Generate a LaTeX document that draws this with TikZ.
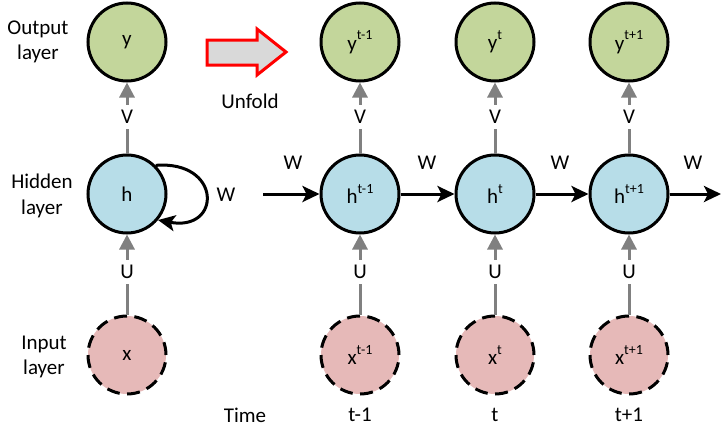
\documentclass[tikz,border=0pt]{standalone}
\usepackage{fontspec}
\setmainfont{Carlito}
\usetikzlibrary{arrows.meta}
\definecolor{outg}{HTML}{C3D69B}
\definecolor{hidb}{HTML}{B7DDE8}
\definecolor{inpr}{HTML}{E6B9B8}
\definecolor{arrg}{HTML}{808080}
\definecolor{unfg}{HTML}{D9D9D9}
\newcommand{\supx}[2]{#1\raisebox{0.5em}{\fontsize{14}{14}\selectfont #2}}
\tikzset{
  base/.style={circle, minimum size=78pt, inner sep=0pt, line width=3pt},
  outnode/.style={base, draw=black, fill=outg},
  hidnode/.style={base, draw=black, fill=hidb},
  inpnode/.style={base, draw=black, fill=inpr, dash pattern=on 13pt off 7.42pt},
  grayarr/.style={draw=arrg, line width=3pt, -{Triangle[length=15pt,width=15pt]}},
  blackarr/.style={draw=black, line width=3pt, -{Stealth[length=17pt,width=16pt,inset=4pt]}},
  lbl/.style={inner sep=0pt, align=center},
  wlbl/.style={fill=white, inner sep=5pt},
}
\begin{document}
\begin{tikzpicture}[x=1pt,y=-1pt,font=\fontsize{21}{25.5}\selectfont]
\useasboundingbox (0,0) rectangle (722,434);

% left, folded network
\node[outnode] (y0) at (127,42) {y};
\node[hidnode] (h0) at (127,194) {h};
\node[inpnode] (x0) at (127,355) {x};

% unfolded network
\node[outnode] (y1) at (360,42) {\supx{y}{t-1}};
\node[outnode] (y2) at (495,42) {\supx{y}{t}};
\node[outnode] (y3) at (629,42) {\supx{y}{t+1}};
\node[hidnode] (h1) at (360,194) {\supx{h}{t-1}};
\node[hidnode] (h2) at (495,194) {\supx{h}{t}};
\node[hidnode] (h3) at (629,194) {\supx{h}{t+1}};
\node[inpnode] (x1) at (360,355) {\supx{x}{t-1}};
\node[inpnode] (x2) at (495,355) {\supx{x}{t}};
\node[inpnode] (x3) at (629,355) {\supx{x}{t+1}};

% vertical gray arrows with labels
\foreach \i in {0,1,2,3}{
  \draw[grayarr] (h\i.north) -- (y\i.south);
  \draw[grayarr] (x\i.north) -- (h\i.south);
}
\foreach \i/\xx in {0/127,1/360,2/495,3/629}{
  \node[wlbl] (v\i) at (\xx,117) {V};
  \node[wlbl] (u\i) at (\xx,272) {U};
}

% recurrent self loop
\draw[blackarr] (h0.45) .. controls (222,160) and (222,232) .. (h0.-40);
\node[lbl] (w0) at (226,195) {W};

% horizontal W arrows
\coordinate (win) at (263,194);
\coordinate (wout) at (721,194);
\draw[blackarr] (win) -- (h1.west);
\draw[blackarr] (h1.east) -- (h2.west);
\draw[blackarr] (h2.east) -- (h3.west);
\draw[blackarr] (h3.east) -- (wout);
\node[lbl] (w1) at (293,163) {W};
\node[lbl] (w2) at (427,163) {W};
\node[lbl] (w3) at (560,163) {W};
\node[lbl] (w4) at (693,163) {W};

% unfold arrow
\draw[draw=red, fill=unfg, line width=3pt, line join=miter]
  (207,40) -- (257,40) -- (257,29) -- (286,52) -- (257,75) -- (257,65) -- (207,65) -- cycle;
\node[lbl] (unf) at (250,101) {Unfold};

% layer labels
\node[lbl] (lout) at (38,42) {Output\\layer};
\node[lbl] (lhid) at (42,196) {Hidden\\layer};
\node[lbl] (linp) at (44,357) {Input\\layer};

% time labels
\node[lbl] (time) at (245,415) {Time};
\node[lbl] (t1) at (360,415) {t-1};
\node[lbl] (t2) at (495,415) {t};
\node[lbl] (t3) at (629,415) {t+1};
\end{tikzpicture}
\end{document}
